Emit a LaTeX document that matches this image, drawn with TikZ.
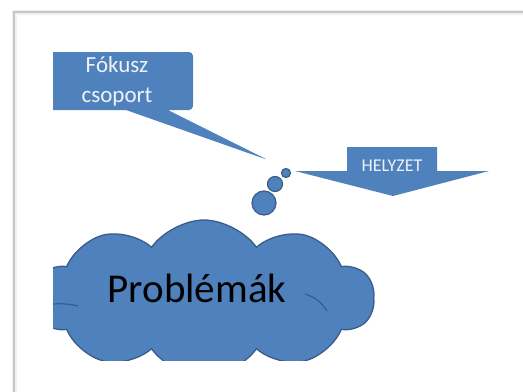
\documentclass[tikz,border=0pt]{standalone}
\usepackage{fontspec}
\setmainfont{Carlito}
\usepackage{tikz}
\usetikzlibrary{shapes,shapes.callouts,shapes.symbols}
\definecolor{officeblue}{HTML}{4F81BD}
\definecolor{officeline}{HTML}{385D8A}
\definecolor{paletext}{HTML}{EEF2F8}

\begin{document}
\begin{tikzpicture}
\useasboundingbox (0bp,0bp) rectangle (523bp,-392bp);
\fill[white] (0bp,0bp) rectangle (523bp,-392bp);
\draw[gray!12,line width=5bp] (14bp,-12bp) rectangle (540bp,-410bp);
\draw[gray!45,line width=1.2bp] (14bp,-12bp) rectangle (540bp,-410bp);
\begin{scope}
\clip (53bp,0bp) rectangle (523bp,-360bp);
\node (cloud) at (204bp,-298bp)[cloud,cloud puffs=10,cloud puff arc=110,aspect=2.3,minimum width=340bp,minimum height=156bp,fill=officeblue,draw=officeline,line width=1.3bp] {};
\node (prob) at (197bp,-288bp) {\fontsize{41bp}{48bp}\selectfont Problémák};
\draw [officeline,line width=1.2bp] (53bp,-304bp) to[bend left=8] (78bp,-306bp);
\draw [officeline,line width=1.2bp] (305bp,-294bp) to[bend left=20] (327bp,-311bp);
\node (focus) at (117bp,-81bp)[rectangle callout,callout absolute pointer={(268bp,-160bp)},callout pointer width=42bp,rounded corners=4bp,minimum width=152bp,minimum height=58bp,fill=officeblue,align=center,text=paletext,inner sep=0pt,font=\fontsize{23bp}{30bp}\selectfont] {Fókusz\\csoport};
\end{scope}
\node (b3) at (264bp,-203bp)[circle,minimum size=24bp,inner sep=0pt,fill=officeblue,draw=officeline,line width=1.2bp] {};
\node (b2) at (275bp,-184bp)[circle,minimum size=15bp,inner sep=0pt,fill=officeblue,draw=officeline,line width=1.2bp] {};
\node (b1) at (286bp,-173bp)[circle,minimum size=9bp,inner sep=0pt,fill=officeblue,draw=officeline,line width=1.2bp] {};
\fill[officeblue] (347bp,-147bp) -- (437bp,-147bp) -- (437bp,-171bp) -- (489bp,-171bp) -- (393bp,-196bp) -- (295bp,-171bp) -- (347bp,-171bp) -- cycle;
\node (situation) at (392bp,-166bp)[text=paletext] {\fontsize{18bp}{22bp}\selectfont HELYZET};
\end{tikzpicture}
\end{document}
